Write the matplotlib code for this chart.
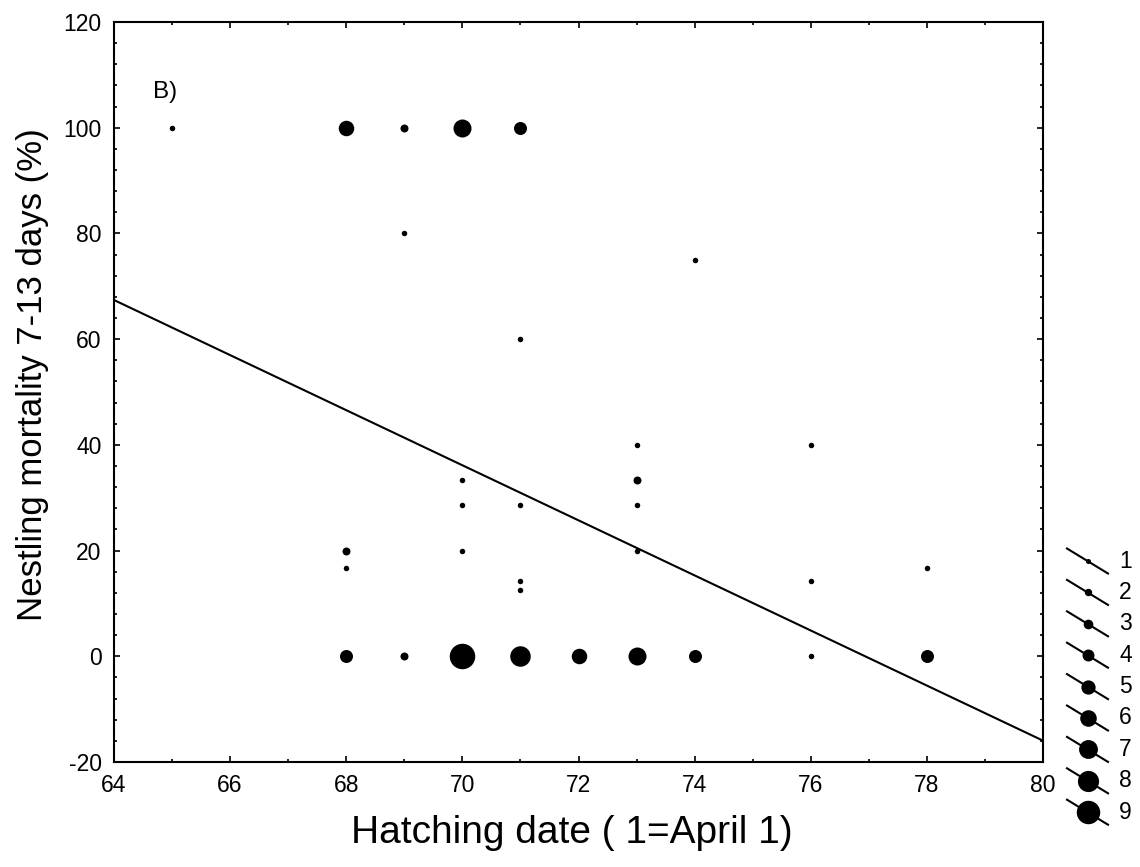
import matplotlib
matplotlib.use("Agg")
import matplotlib.pyplot as plt
import numpy as np

plt.rcParams["font.family"] = ["Liberation Sans", "DejaVu Sans"]
plt.rcParams["axes.unicode_minus"] = False

# hatching date, mortality (%), number of overlapping nests
hatch_day = [65, 68, 69, 70, 71,
             69, 74, 71,
             73, 76,
             70, 73,
             70, 71, 73,
             68, 70, 73,
             68, 78, 71, 76, 71,
             68, 69, 70, 71, 72, 73, 74, 76, 78]
mortality = [100, 100, 100, 100, 100,
             80, 75, 60,
             40, 40,
             33.3, 33.3,
             28.6, 28.6, 28.6,
             20, 20, 20,
             16.7, 16.7, 14.3, 14.3, 12.5,
             0, 0, 0, 0, 0, 0, 0, 0, 0]
n_nests = [1, 5, 2, 6, 4,
           1, 1, 1,
           1, 1,
           1, 2,
           1, 1, 1,
           2, 1, 1,
           1, 1, 1, 1, 1,
           4, 2, 9, 7, 5, 6, 4, 1, 4]

# regression line
fit_intercept = 67.4   # value at day 64
fit_slope = -5.21      # per day

legend_counts = [1, 2, 3, 4, 5, 6, 7, 8, 9]


def marker_size(n):
    # diameter in px -> points
    return (2.5 * n + 3.0) * 0.72


W, H = 1140, 867
fig = plt.figure(figsize=(W / 100, H / 100), dpi=100)
ax = fig.add_axes([114 / W, 1 - 762 / H, (1043 - 114) / W, (762 - 22) / H])

for x, y, n in zip(hatch_day, mortality, n_nests):
    ax.plot(x, y, "o", color="black", markersize=marker_size(n), markeredgewidth=0)

xl = np.array([64, 80])
ax.plot(xl, fit_intercept + fit_slope * (xl - 64), color="black", lw=1.5)

ax.set_xlim(64, 80)
ax.set_ylim(-20, 120)
ax.set_xticks(np.arange(64, 81, 2))
ax.set_xticks(np.arange(64, 81, 1), minor=True)
ax.set_yticks(np.arange(-20, 121, 20))
ax.set_yticks(np.arange(-20, 121, 4), minor=True)
ax.tick_params(which="both", direction="in", top=True, right=True, width=1.2, labelsize=16.5, pad=9)
ax.tick_params(which="major", length=4)
ax.tick_params(which="minor", length=2.5)
for s in ["top", "bottom", "left", "right"]:
    ax.spines[s].set_linewidth(1.5)

ax.set_xlabel("Hatching date ( 1=April 1)", fontsize=28)
ax.set_ylabel("Nestling mortality 7-13 days (%)", fontsize=25)
ax.xaxis.set_label_coords(0.493, -0.072, transform=ax.transAxes)
ax.yaxis.set_label_coords(-0.07, 0.523, transform=ax.transAxes)
ax.xaxis.label.set_va("top")
ax.text(0.042, 0.905, "B)", transform=ax.transAxes, fontsize=17.5, va="center", ha="left")

# size legend, drawn in pixel-like coordinates
lg = fig.add_axes([1060 / W, 1 - 830 / H, 80 / W, 285 / H])
lg.set_xlim(1060, 1140)
lg.set_ylim(830, 545)
lg.axis("off")
for i, n in enumerate(legend_counts):
    yc = 561 + 31.4 * i
    lg.plot([1067, 1108], [yc - 12.5, yc + 12.5], color="black", lw=1.5)
    lg.plot(1087.5, yc, "o", color="black", markersize=marker_size(n) * 0.92, markeredgewidth=0)
    lg.text(1119, yc, str(n), fontsize=16.5, va="center", ha="left")

fig.savefig("out.png", dpi=100)
